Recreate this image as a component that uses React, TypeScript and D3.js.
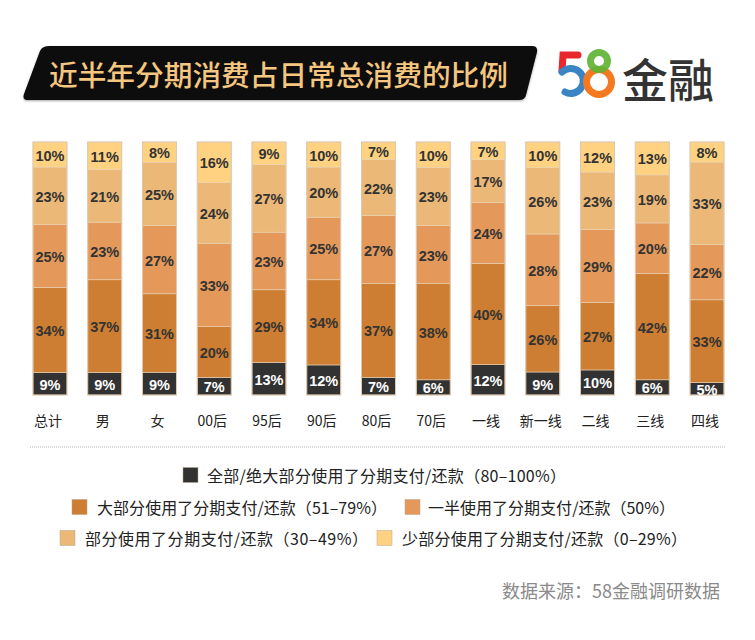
import React from "react";
import * as d3 from "d3";

const categories = ["总计", "男", "女", "00后", "95后", "90后", "80后", "70后", "一线", "新一线", "二线", "三线", "四线"];
const seriesNames = [
  "全部/绝大部分使用了分期支付/还款（80–100%）",
  "大部分使用了分期支付/还款（51–79%）",
  "一半使用了分期支付/还款（50%）",
  "部分使用了分期支付/还款（30–49%）",
  "少部分使用了分期支付/还款（0–29%）",
];
const allMost = [9, 9, 9, 7, 13, 12, 7, 6, 12, 9, 10, 6, 5];
const most = [34, 37, 31, 20, 29, 34, 37, 38, 40, 26, 27, 42, 33];
const half = [25, 23, 27, 33, 23, 25, 27, 23, 24, 28, 29, 20, 22];
const part = [23, 21, 25, 24, 27, 20, 22, 23, 17, 26, 23, 19, 33];
const few = [10, 11, 8, 16, 9, 10, 7, 10, 7, 10, 12, 13, 8];
const colors = ["#323232", "#cd7e32", "#e4995b", "#ebb877", "#fed281"];
const labelColors = ["#ffffff", "#333333", "#333333", "#333333", "#333333"];

const W = 755;
const H = 640;
const CJK = "'Noto Sans CJK SC', 'Noto Sans', sans-serif";
const NUM = "'Liberation Sans Narrow', 'Arial Narrow', 'Liberation Sans', Arial, sans-serif";

export default function App() {
  const series = [allMost, most, half, part, few];
  const rows = categories.map((c, i) => {
    const obj: any = { cat: c };
    series.forEach((s, k) => (obj["s" + k] = s[i]));
    return obj;
  });
  const keys = series.map((_, k) => "s" + k);
  const stacked = d3.stack().keys(keys).offset(d3.stackOffsetExpand)(rows);

  const x = d3.scaleBand().domain(categories).range([22.6, 734.4]).paddingInner(0.379).paddingOuter(0.1895);
  const y = d3.scaleLinear().domain([0, 1]).range([395, 142]);
  const bw = x.bandwidth();

  const legendItems = [
    { k: 0, sx: 183, tx: 207, y: 475, len: 359 },
    { k: 1, sx: 72, tx: 97, y: 507, len: 290 },
    { k: 2, sx: 405, tx: 428, y: 507, len: 247 },
    { k: 3, sx: 60, tx: 85, y: 538, len: 283 },
    { k: 4, sx: 377, tx: 402, y: 538, len: 285 },
  ];

  return (
    <svg width={W} height={H} style={{ position: "absolute", left: 0, top: 0, background: "#fff" }}>
      <defs>
        <filter id="sh" x="-5%" y="-10%" width="110%" height="130%">
          <feDropShadow dx="0" dy="1" stdDeviation="0.8" floodColor="#000" floodOpacity="0.35" />
        </filter>
      </defs>
      {/* Title box */}
      <path
        d="M50,46 L532,46 Q538,46 537,52 L526,95 Q525,100 519,100 L28,100 Q22,100 24,94 L40,51 Q42,46 50,46 Z"
        fill="#0a0a0a"
        filter="url(#sh)"
      />
      <text
        x={49}
        y={74}
        dominantBaseline="central"
        fill="#f5c67f"
        fontSize={28}
        fontWeight={500}
        fontFamily={CJK}
        textLength={459}
        lengthAdjust="spacingAndGlyphs"
      >
        近半年分期消费占日常总消费的比例
      </text>
      {/* Logo */}
      <g fill="none" strokeWidth={7} strokeLinecap="round">
        <path d="M578,55 L563,55 L562,71" stroke="#e8262b" />
        <path d="M562,72 A12.5,12.5 0 1 1 565,92" stroke="#3a84c4" strokeLinecap="round" />
        <circle cx={599} cy={82} r={12.5} stroke="#f47920" />
        <circle cx={599} cy={61} r={8.5} stroke="#5fb336" opacity={0.92} />
      </g>
      <text x={622} y={77} dominantBaseline="central" fill="#333" fontSize={46} fontWeight={500} fontFamily={CJK}>
        金融
      </text>

      {/* Bars */}
      {stacked.map((layer, k) => (
        <g key={k}>
          {layer.map((d, i) => (
            <rect
              key={i}
              x={x(categories[i])!}
              y={y(d[1])}
              width={bw}
              height={y(d[0]) - y(d[1])}
              fill={colors[k]}
              stroke="#e9d3b6"
              strokeWidth={0.6}
            />
          ))}
        </g>
      ))}
      {categories.map((c, i) => (
        <rect key={"o" + i} x={x(c)!} y={y(1)} width={bw} height={y(0) - y(1)} fill="none" stroke="#dcc7ad" strokeWidth={1} />
      ))}
      {stacked.map((layer, k) => (
        <g key={"l" + k}>
          {layer.map((d, i) => (
            <text
              key={i}
              x={x(categories[i])! + bw / 2}
              y={(y(d[0]) + y(d[1])) / 2 + 1}
              textAnchor="middle"
              dominantBaseline="central"
              fill={labelColors[k]}
              fontSize={14.5}
              fontWeight="bold"
              fontFamily={NUM}
            >
              {series[k][i]}%
            </text>
          ))}
        </g>
      ))}
      {/* Category labels */}
      {categories.map((c) => (
        <text key={c} x={x(c)! + bw / 2 - 2} y={420} textAnchor="middle" dominantBaseline="central" fill="#222" fontSize={14} fontFamily={CJK}>
          {c}
        </text>
      ))}
      <line x1={30} x2={725} y1={447} y2={447} stroke="#b5b5b5" strokeWidth={1} strokeDasharray="1,1" />

      {/* Legend */}
      {legendItems.map((it) => (
        <g key={it.k}>
          <rect x={it.sx} y={it.y - 7.5} width={15} height={15} fill={colors[it.k]} stroke="#b8a48c" strokeWidth={0.5} />
          <text
            x={it.tx}
            y={it.y}
            dominantBaseline="central"
            fill="#222"
            fontSize={16}
            fontFamily={CJK}
            textLength={it.len}
            lengthAdjust="spacing"
          >
            {seriesNames[it.k]}
          </text>
        </g>
      ))}

      <text x={720} y={590} textAnchor="end" dominantBaseline="central" fill="#8a8a8a" fontSize={18} fontFamily={CJK}>
        数据来源：58金融调研数据
      </text>
    </svg>
  );
}
